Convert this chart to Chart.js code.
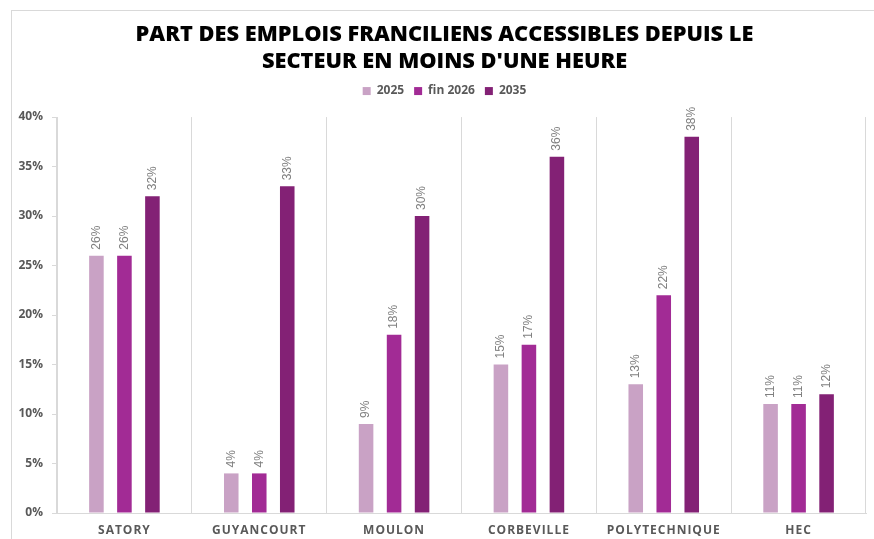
<!DOCTYPE html>
<html><head><meta charset="utf-8">
<script src="https://cdn.jsdelivr.net/npm/chart.js@4.4.1/dist/chart.umd.min.js"></script>
<style>
html,body{margin:0;padding:0;background:#fff;}
#wrap{position:relative;width:874px;height:539px;overflow:hidden;}
#frame{position:absolute;left:11px;top:10px;width:900px;height:600px;border-left:1px solid #d9d9d9;border-top:1px solid #d9d9d9;pointer-events:none;}
canvas{display:block;}
</style>
</head><body>
<div id="wrap"><canvas id="c" width="874" height="539"></canvas><div id="frame"></div></div>
<script>
const categories = ['SATORY','GUYANCOURT','MOULON','CORBEVILLE','POLYTECHNIQUE','HEC'];
const seriesNames = ['2025','fin 2026','2035'];
const values2025 = [26, 4, 9, 15, 13, 11];
const valuesFin2026 = [26, 4, 18, 17, 22, 11];
const values2035 = [32, 33, 30, 36, 38, 12];
const yMin = 0, yMax = 40, yStep = 5;
const titleLines = ['PART DES EMPLOIS FRANCILIENS ACCESSIBLES DEPUIS LE', 'SECTEUR EN MOINS D\'UNE HEURE'];
const seriesColors = ['#C9A2C5', '#A22B95', '#832175'];

const dataLabels = {
  id: 'dataLabels',
  afterDatasetsDraw(chart) {
    const ctx = chart.ctx;
    ctx.save();
    ctx.font = '12px "Liberation Sans", Arial, sans-serif';
    ctx.fillStyle = '#808080';
    ctx.textAlign = 'left';
    ctx.textBaseline = 'middle';
    chart.data.datasets.forEach((ds, i) => {
      const meta = chart.getDatasetMeta(i);
      meta.data.forEach((el, j) => {
        ctx.save();
        ctx.translate(el.x, el.y - 6);
        ctx.rotate(-Math.PI / 2);
        ctx.fillText(ds.data[j] + '%', 0, 0);
        ctx.restore();
      });
    });
    ctx.restore();
  }
};

const tweaks = {
  id: 'tweaks',
  afterInit(chart) {
    const lg = chart.legend;
    if (lg && !lg._wrapped) {
      const origFit = lg.fit;
      lg.fit = function () {
        origFit.call(this);
        this.height += 10;
      };
      lg._wrapped = true;
    }
  },
  afterLayout(chart) {
    const sc = chart.scales.x;
    if (sc && !sc._wrapped) {
      const orig = sc.drawLabels;
      sc.drawLabels = function (a) {
        const ctx = this.ctx;
        ctx.save();
        ctx.letterSpacing = '1px';
        orig.call(this, a);
        ctx.restore();
      };
      sc._wrapped = true;
    }
    const ys = chart.scales.y;
    if (ys) { ys._computeLabelArea = function () { return undefined; }; }
  }
};

new Chart(document.getElementById('c'), {
  type: 'bar',
  data: {
    labels: categories,
    datasets: [
      { label: seriesNames[0], data: values2025, backgroundColor: seriesColors[0] },
      { label: seriesNames[1], data: valuesFin2026, backgroundColor: seriesColors[1] },
      { label: seriesNames[2], data: values2035, backgroundColor: seriesColors[2] }
    ]
  },
  options: {
    responsive: false,
    animation: false,
    devicePixelRatio: 1,
    categoryPercentage: 0.623,
    barPercentage: 0.52,
    layout: { padding: { left: 23, right: 8, top: 0, bottom: 0 } },
    plugins: {
      title: {
        display: true,
        text: titleLines,
        color: '#000000',
        font: { family: '"Open Sans", sans-serif', size: 21.8, weight: '800', lineHeight: 1.24 },
        padding: { top: 21, bottom: 0 }
      },
      legend: {
        display: true,
        position: 'top',
        labels: {
          boxWidth: 8, boxHeight: 8,
          color: '#595959',
          font: { family: '"Open Sans", sans-serif', size: 12, weight: 'bold' },
          padding: 10
        }
      },
      tooltip: { enabled: false }
    },
    scales: {
      x: {
        grid: { display: true, offset: true, color: '#d9d9d9', drawTicks: false },
        border: { display: true, color: '#d9d9d9' },
        ticks: {
          color: '#595959',
          font: { family: '"Open Sans", sans-serif', size: 12, weight: 'bold' },
          padding: 10, maxRotation: 0, autoSkip: false
        },
        afterFit(s) { s.height = 26; }
      },
      y: {
        min: yMin, max: yMax,
        grid: { display: true, drawOnChartArea: false, color: '#d9d9d9', tickLength: 5 },
        border: { display: true, color: '#d9d9d9' },
        ticks: {
          stepSize: yStep,
          color: '#595959',
          font: { family: '"Open Sans", sans-serif', size: 12, weight: 'bold' },
          padding: 9,
          callback: v => v + '%'
        },
        afterFit(s) { s.width = 34; }
      }
    }
  },
  plugins: [dataLabels, tweaks]
});
</script>
</body></html>
